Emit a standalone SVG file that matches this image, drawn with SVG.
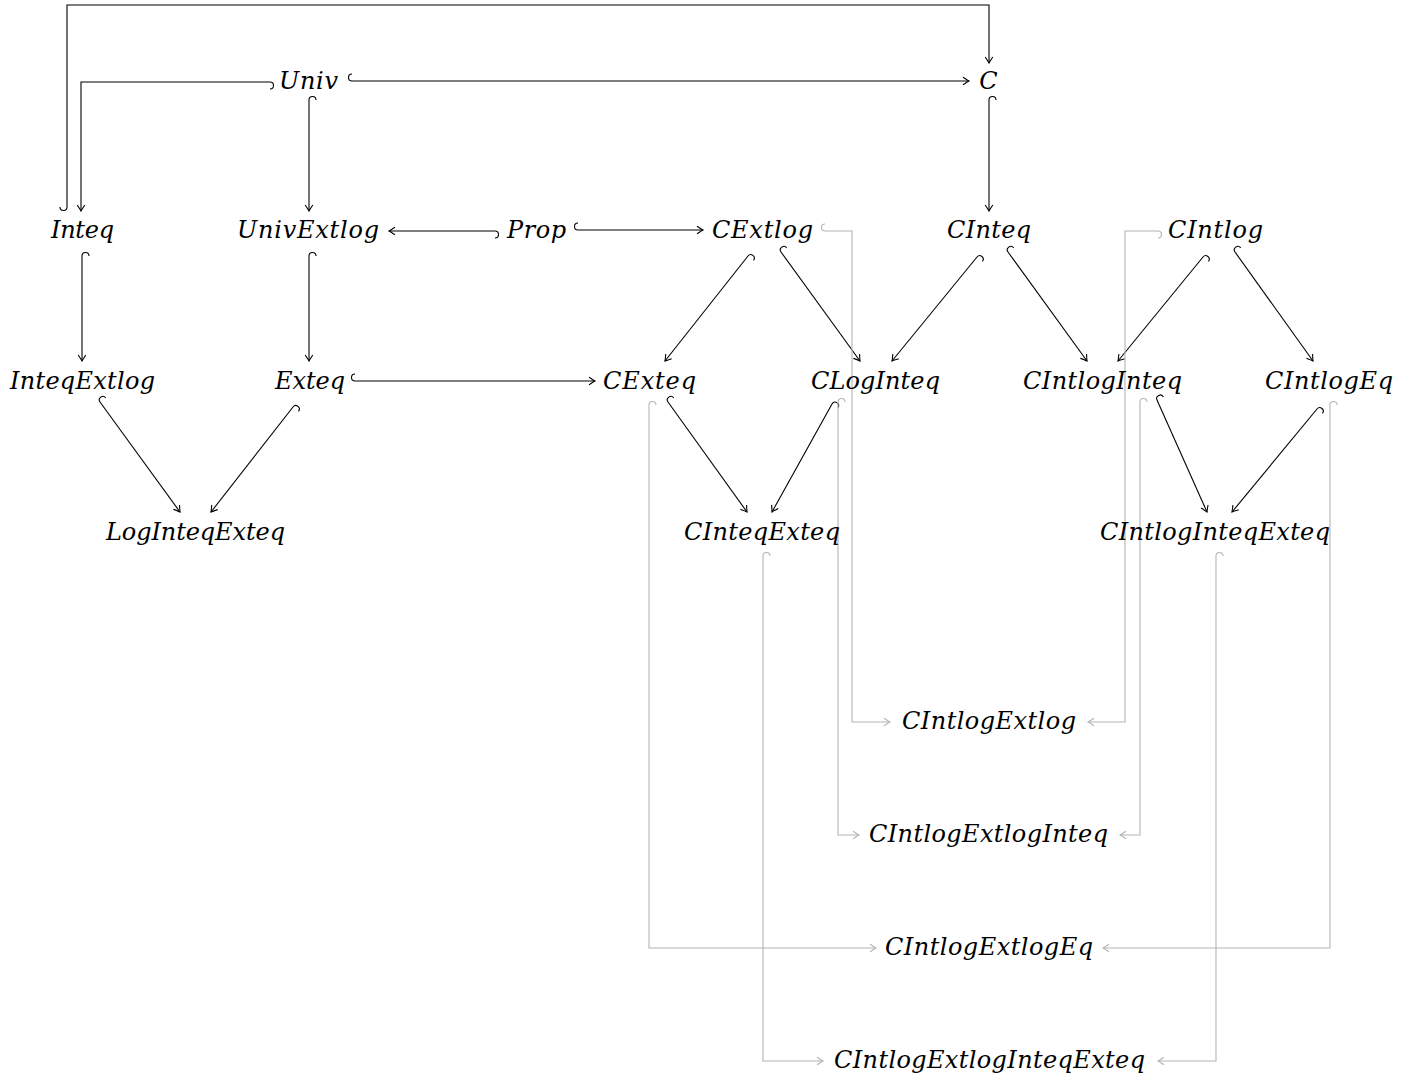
<svg xmlns="http://www.w3.org/2000/svg" width="1401" height="1080" viewBox="0 0 1401 1080">
<style>
.t{font-family:"DejaVu Serif","Liberation Serif",serif;font-style:italic;font-size:24px;fill:#000;text-anchor:middle}
.e{fill:none;stroke:#000;stroke-width:1.1;marker-start:url(#hk);marker-end:url(#ar)}
.g{fill:none;stroke:#b4b4b4;stroke-width:1.1;marker-start:url(#hkg);marker-end:url(#arg)}
</style>
<defs>
<marker id="hk" markerUnits="userSpaceOnUse" orient="auto" overflow="visible" markerWidth="1" markerHeight="1" refX="0" refY="0"><path d="M0,0 A3.5,3.5 0 0 1 0,-7" fill="none" stroke="#000" stroke-width="1.1"/></marker>
<marker id="ar" markerUnits="userSpaceOnUse" orient="auto" overflow="visible" markerWidth="1" markerHeight="1" refX="0" refY="0"><path d="M-6,-3.8 Q-1.5,-0.8 0,0 Q-1.5,0.8 -6,3.8" fill="none" stroke="#000" stroke-width="1.1"/></marker>
<marker id="hkg" markerUnits="userSpaceOnUse" orient="auto" overflow="visible" markerWidth="1" markerHeight="1" refX="0" refY="0"><path d="M0,0 A3.5,3.5 0 0 1 0,-7" fill="none" stroke="#b4b4b4" stroke-width="1.1"/></marker>
<marker id="arg" markerUnits="userSpaceOnUse" orient="auto" overflow="visible" markerWidth="1" markerHeight="1" refX="0" refY="0"><path d="M-6,-3.8 Q-1.5,-0.8 0,0 Q-1.5,0.8 -6,3.8" fill="none" stroke="#b4b4b4" stroke-width="1.1"/></marker>
</defs>
<rect width="1401" height="1080" fill="#fff"/>
<g id="connectors">
<path class="e" d="M67,207 V5 H989 V63"/>
<path class="e" d="M270,82 H81 V211"/>
<path class="e" d="M352,81 H969"/>
<path class="e" d="M309,100 V211"/>
<path class="e" d="M989,100 V211"/>
<path class="e" d="M495,231 H389"/>
<path class="e" d="M578,230 H703"/>
<path class="e" d="M748,256 L665,361"/>
<path class="e" d="M781,252 L860,361"/>
<path class="e" d="M977,257 L892,361"/>
<path class="e" d="M1008,252 L1087,361"/>
<path class="e" d="M1203,257 L1118,361"/>
<path class="e" d="M1235,252 L1313,361"/>
<path class="e" d="M82,256 V361"/>
<path class="e" d="M309,256 V361"/>
<path class="e" d="M355,381 H595"/>
<path class="e" d="M100,402 L180,512"/>
<path class="e" d="M293,407 L211,512"/>
<path class="e" d="M668,402 L747,512"/>
<path class="e" d="M832,404 L772,512"/>
<path class="e" d="M1157,400 L1207,512"/>
<path class="e" d="M1317,409 L1232,512"/>
<path class="g" d="M825,231 H852 V722 H890"/>
<path class="g" d="M1158,231 H1125 V722 H1088"/>
<path class="g" d="M838,402 V835 H859"/>
<path class="g" d="M1140,402 V835 H1120"/>
<path class="g" d="M649,405 V948 H876"/>
<path class="g" d="M1330,405 V948 H1103"/>
<path class="g" d="M763,556 V1061 H823"/>
<path class="g" d="M1216,556 V1061 H1158"/>
</g>
<g id="n-Univ"><text class="t" x="308.5" y="89" textLength="59" lengthAdjust="spacing">Univ</text></g>
<g id="n-C"><text class="t" x="988.5" y="89">C</text></g>
<g id="n-Inteq"><text class="t" x="82.5" y="238" textLength="63" lengthAdjust="spacing">Inteq</text></g>
<g id="n-UnivExtlog"><text class="t" x="308" y="238" textLength="142" lengthAdjust="spacing">UnivExtlog</text></g>
<g id="n-Prop"><text class="t" x="536.5" y="238" textLength="59" lengthAdjust="spacing">Prop</text></g>
<g id="n-CExtlog"><text class="t" x="762.5" y="238" textLength="101" lengthAdjust="spacing">CExtlog</text></g>
<g id="n-CInteq"><text class="t" x="989" y="238" textLength="84" lengthAdjust="spacing">CInteq</text></g>
<g id="n-CIntlog"><text class="t" x="1215.5" y="238" textLength="95" lengthAdjust="spacing">CIntlog</text></g>
<g id="n-InteqExtlog"><text class="t" x="82.5" y="389" textLength="145" lengthAdjust="spacing">InteqExtlog</text></g>
<g id="n-Exteq"><text class="t" x="310" y="389" textLength="70" lengthAdjust="spacing">Exteq</text></g>
<g id="n-CExteq"><text class="t" x="649.5" y="389" textLength="93" lengthAdjust="spacing">CExteq</text></g>
<g id="n-CLogInteq"><text class="t" x="875.5" y="389" textLength="129" lengthAdjust="spacing">CLogInteq</text></g>
<g id="n-CIntlogInteq"><text class="t" x="1102.5" y="389" textLength="159" lengthAdjust="spacing">CIntlogInteq</text></g>
<g id="n-CIntlogEq"><text class="t" x="1329" y="389" textLength="128" lengthAdjust="spacing">CIntlogEq</text></g>
<g id="n-LogInteqExteq"><text class="t" x="195.5" y="540" textLength="179" lengthAdjust="spacing">LogInteqExteq</text></g>
<g id="n-CInteqExteq"><text class="t" x="762" y="540" textLength="156" lengthAdjust="spacing">CInteqExteq</text></g>
<g id="n-CIntlogInteqExteq"><text class="t" x="1215" y="540" textLength="230" lengthAdjust="spacing">CIntlogInteqExteq</text></g>
<g id="n-CIntlogExtlog"><text class="t" x="989" y="729" textLength="174" lengthAdjust="spacing">CIntlogExtlog</text></g>
<g id="n-CIntlogExtlogInteq"><text class="t" x="988.5" y="842" textLength="239" lengthAdjust="spacing">CIntlogExtlogInteq</text></g>
<g id="n-CIntlogExtlogEq"><text class="t" x="989" y="955" textLength="208" lengthAdjust="spacing">CIntlogExtlogEq</text></g>
<g id="n-CIntlogExtlogInteqExteq"><text class="t" x="989.5" y="1068" textLength="311" lengthAdjust="spacing">CIntlogExtlogInteqExteq</text></g>
</svg>
